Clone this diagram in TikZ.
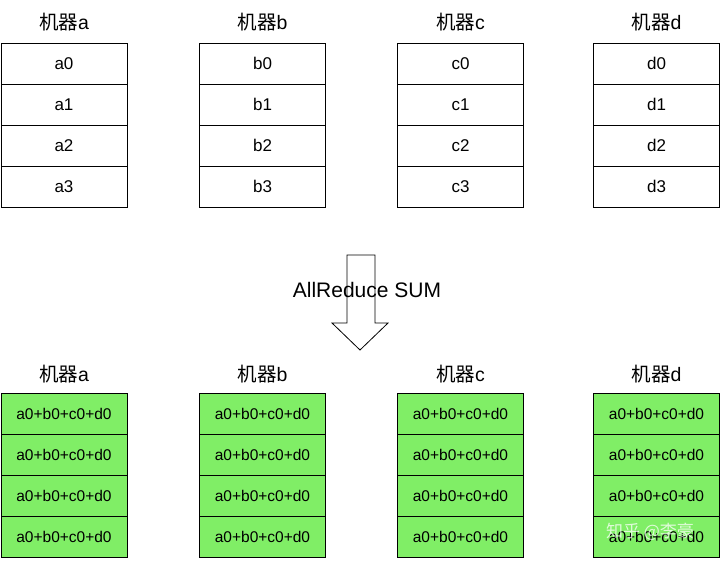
\documentclass[tikz,border=0pt]{standalone}
\usepackage{fontspec}
\setmainfont{Liberation Sans}
\newfontfamily\cjk{Noto Sans CJK SC}
\begin{document}
\begin{tikzpicture}[x=1pt,y=-1pt,
  cell/.style={draw=black,line width=0.8pt,minimum width=126pt,minimum height=41pt,inner sep=0pt,font=\fontsize{17}{19}\selectfont},
  lab/.style={font=\fontsize{19.5}{21}\selectfont}]
\useasboundingbox (0,0) rectangle (720,560);
\definecolor{gfill}{HTML}{80EE66}
\foreach \n/\x in {a/64,b/262.5,c/460.5,d/656.5}{
  \node[lab] (t\n) at (\x,22) {{\cjk 机器}\n};
  \foreach \i in {0,...,3}{
    \node[cell] (\n\i) at (\x,{63.5+41*\i}) {\n\i};
  }
  \node[lab] (u\n) at (\x,374) {{\cjk 机器}\n};
  \foreach \i in {0,...,3}{
    \node[cell,fill=gfill,font=\fontsize{15.5}{17}\selectfont] (g\n\i) at (\x,{414+41*\i}) {a0+b0+c0+d0};
  }
}
\draw[line width=0.8pt,fill=white] (347,255) -- (375,255) -- (375,323) -- (388,323) -- (360,350) -- (332,323) -- (347,323) -- cycle;
\node[font=\fontsize{21}{23}\selectfont] (ar) at (367,290) {AllReduce SUM};
\node[text=white,opacity=0.75,font=\cjk\fontsize{17}{19}\selectfont] (wm) at (650,532) {知乎 @李豪};
\end{tikzpicture}
\end{document}
